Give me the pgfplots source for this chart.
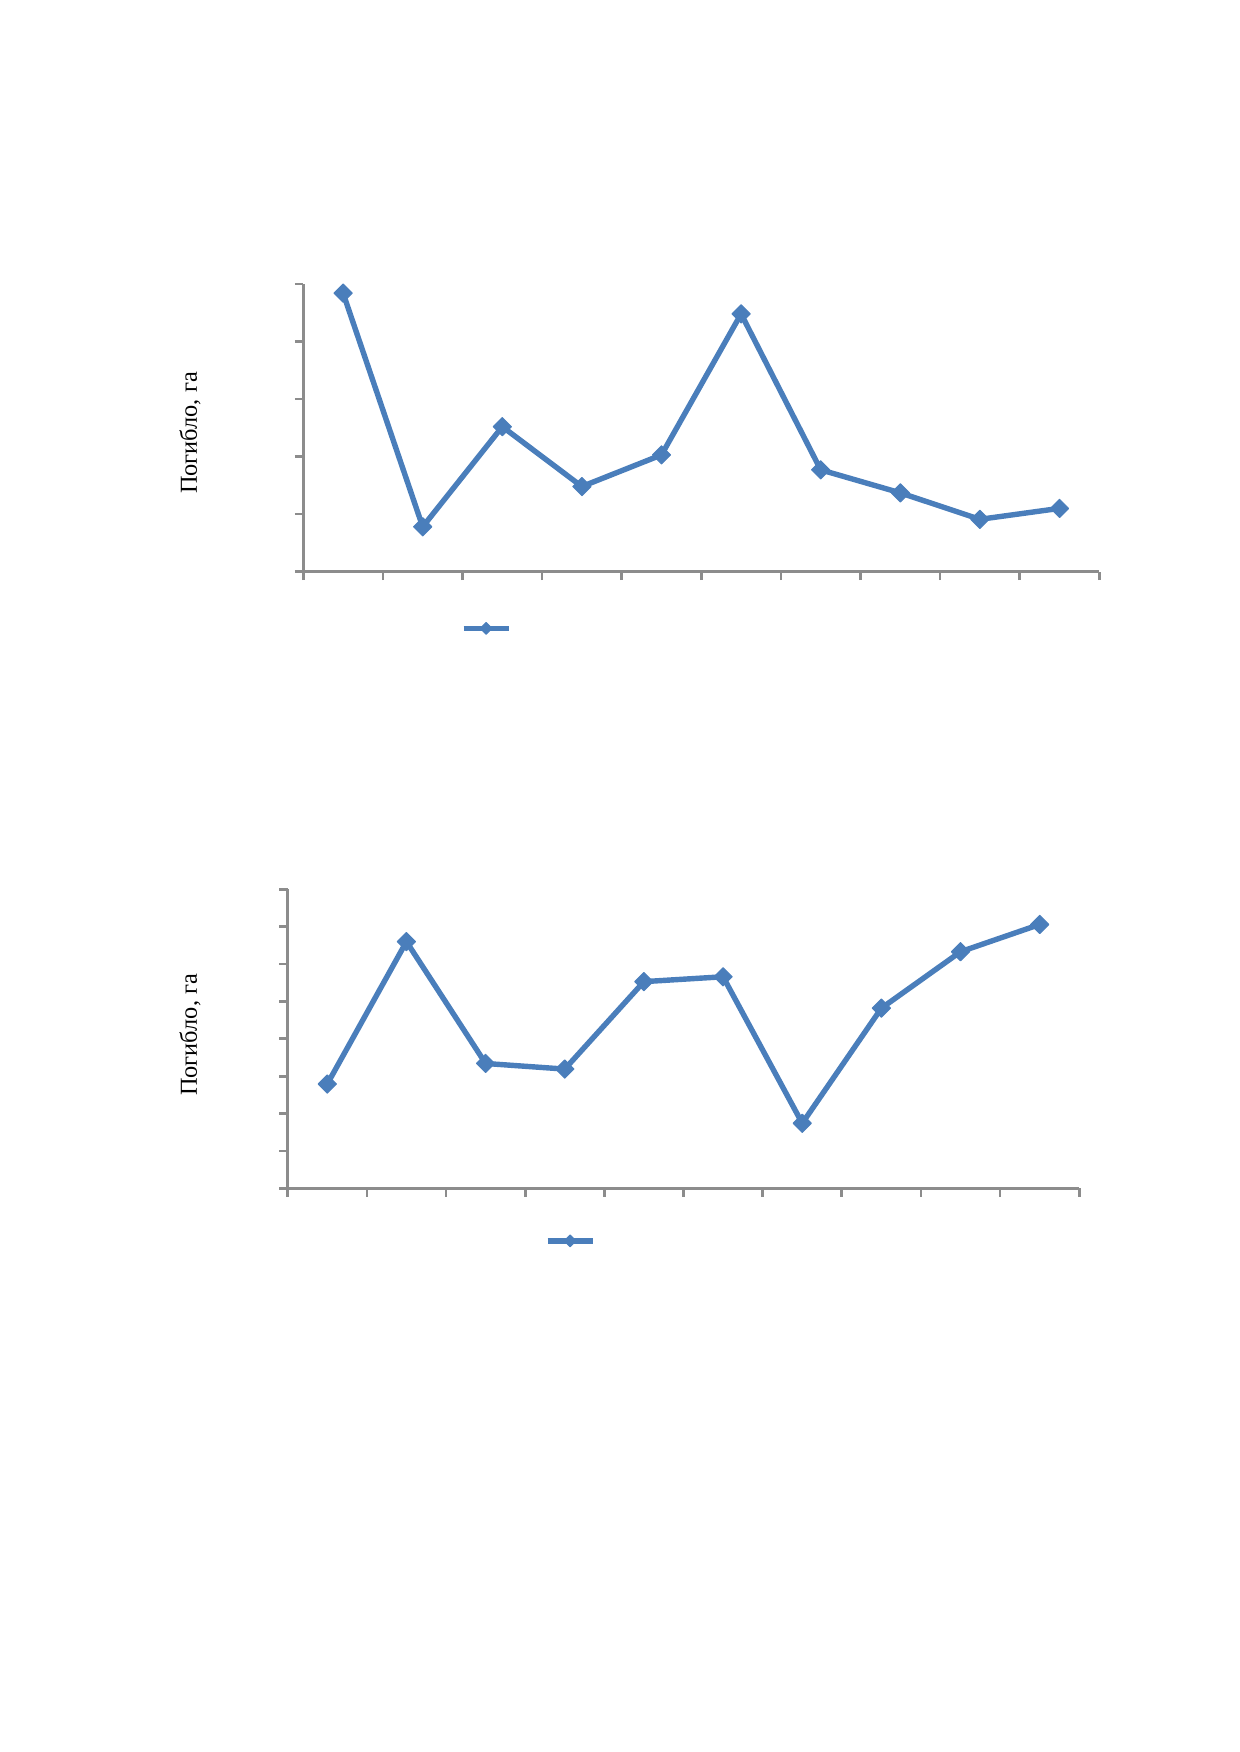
\documentclass[border=0pt]{standalone}
\usepackage{fontspec}
\setmainfont{Liberation Serif}
\usepackage{pgfplots}
\pgfplotsset{compat=1.18}

\definecolor{serblue}{HTML}{4A7EBB}
\definecolor{axgray}{HTML}{8C8C8C}

% values, in units of the (unlabelled) y ticks
\pgfplotstableread{
x y
0.5 4.84
1.5 0.78
2.5 2.52
3.5 1.48
4.5 2.03
5.5 4.48
6.5 1.77
7.5 1.37
8.5 0.91
9.5 1.10
}\topdata
\pgfplotstableread{
x y
0.5 2.79
1.5 6.60
2.5 3.34
3.5 3.19
4.5 5.53
5.5 5.66
6.5 1.74
7.5 4.82
8.5 6.33
9.5 7.06
}\botdata

\pgfplotsset{
  pagechart/.style={
    scale only axis,
    anchor=origin,
    axis lines*=left,
    axis line style={axgray, line width=1.3pt},
    tick style={axgray, line width=1.3pt},
    tick align=outside,
    major tick length=4pt,
    xmin=0, xmax=10,
    xtick={0,...,10},
    xticklabels={},
    yticklabels={},
    clip=false,
    legend style={draw=none, fill=none, inner sep=0pt, nodes={inner sep=0pt}},
    legend image code/.code={
      \draw[#1, line width=2.5pt] (0cm,0cm) -- (0.76cm,0cm);
      \draw[#1, only marks, mark size=2pt] plot coordinates {(0.38cm,0cm)};
    },
    ylabel style={anchor=center, font=\fontsize{11.7}{14}\selectfont},
  },
  serline/.style={serblue, line width=2.6pt, line join=round,
    mark=square*, mark size=3.1pt,
    mark options={rotate=45, fill=serblue, line width=0.5pt}},
}

\begin{document}
\begin{tikzpicture}
\useasboundingbox (0,0) rectangle (595.28pt,841.75pt);

\begin{axis}[pagechart,
  at={(145.72pt,567.08pt)},
  width=382.44pt, height=138.23pt,
  ymin=0, ymax=5, ytick={0,...,5},
  ylabel={Погибло, га},
  ylabel style={at={(axis description cs:-0.1423,0.482)}},
  legend style={at={(axis description cs:0.231,-0.197)}, anchor=center},
]
\addplot[serline] table[x=x,y=y] {\topdata};
\addlegendentry{}
\end{axis}

\begin{axis}[pagechart,
  at={(138.23pt,270.83pt)},
  width=380.32pt, height=143.65pt,
  ymin=0, ymax=8, ytick={0,...,8},
  ylabel={Погибло, га},
  ylabel style={at={(axis description cs:-0.1234,0.513)}},
  legend style={at={(axis description cs:0.358,-0.176)}, anchor=center},
]
\addplot[serline] table[x=x,y=y] {\botdata};
\addlegendentry{}
\end{axis}
\end{tikzpicture}
\end{document}
